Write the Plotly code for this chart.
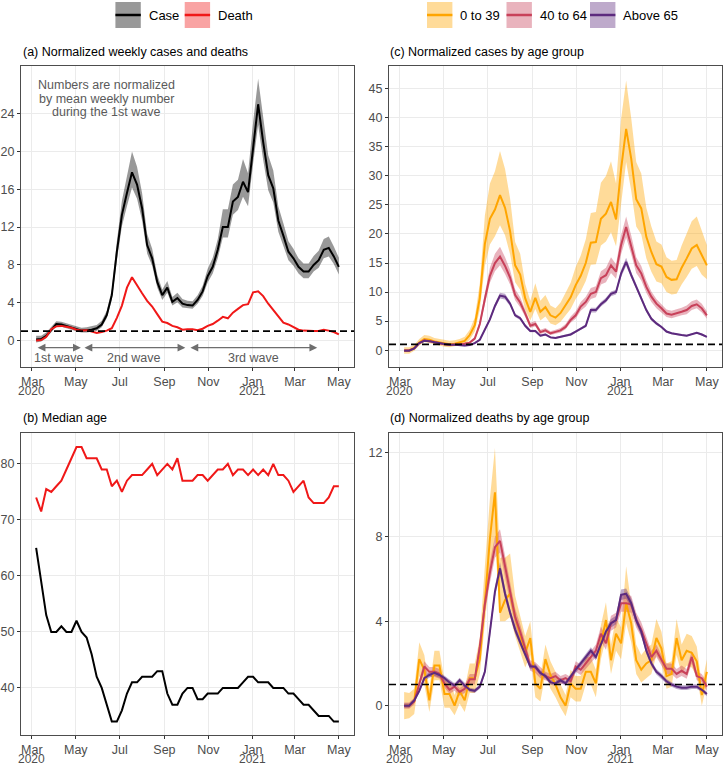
import plotly.graph_objects as go
import pandas as pd

W, H = 725, 765
FONT = "Liberation Sans, Arial, sans-serif"

# ---------------- data ----------------
weeks = pd.date_range("2020-03-07", periods=61, freq="7D").strftime("%Y-%m-%d").tolist()

case = [0.1, 0.15, 0.5, 1.1, 1.75, 1.7, 1.55, 1.4, 1.2, 1.05,
        1.1, 1.15, 1.3, 1.7, 2.7, 4.8, 9.4, 13.3, 15.6, 17.8,
        16.5, 14.0, 10.1, 8.7, 6.2, 4.8, 5.6, 4.1, 4.5, 3.9,
        3.75, 3.7, 4.3, 5.2, 6.8, 7.8, 9.6, 12.0, 12.0, 14.7,
        15.2, 16.8, 15.7, 20.6, 25.0, 21.0, 17.5, 16.1, 12.7, 11.1,
        9.4, 8.7, 7.8, 7.3, 7.3, 8.0, 8.5, 9.6, 9.8, 8.9, 7.8]
case_lo = [-0.2, -0.1, 0.25, 0.85, 1.5, 1.45, 1.3, 1.15, 0.95, 0.85,
           0.85, 0.9, 1.0, 1.4, 2.35, 4.3, 8.5, 12.1, 14.2, 16.2,
           15.0, 12.7, 9.2, 7.9, 5.6, 4.3, 5.05, 3.7, 4.05, 3.5,
           3.4, 3.35, 3.9, 4.7, 6.15, 7.1, 8.7, 10.9, 10.9, 13.3,
           13.8, 15.2, 14.2, 18.7, 22.8, 19.1, 15.9, 14.6, 11.5, 10.1,
           8.5, 7.9, 7.1, 6.6, 6.6, 7.3, 7.7, 8.7, 8.9, 8.1, 7.0]
case_hi = [0.5, 0.5, 0.85, 1.45, 2.05, 2.0, 1.85, 1.7, 1.5, 1.35,
           1.4, 1.5, 1.65, 2.1, 3.15, 5.4, 10.5, 14.8, 17.4, 20.0,
           18.4, 15.6, 11.3, 9.7, 6.95, 5.4, 6.3, 4.6, 5.05, 4.4,
           4.2, 4.15, 4.8, 5.8, 7.6, 8.75, 10.75, 13.9, 13.9, 16.5,
           17.0, 19.2, 17.7, 23.1, 27.7, 23.5, 19.6, 18.0, 14.2, 12.4,
           10.5, 9.7, 8.7, 8.15, 8.15, 8.95, 9.5, 10.75, 11.0, 9.95, 8.75]
death = [0.0, 0.05, 0.4, 1.2, 1.5, 1.55, 1.45, 1.35, 1.15, 1.05,
         1.1, 0.95, 0.8, 0.9, 1.05, 1.3, 2.4, 3.7, 5.6, 6.7,
         5.8, 5.0, 4.2, 3.6, 2.8, 2.0, 1.85, 1.55, 1.4, 1.15,
         1.2, 1.2, 1.1, 1.25, 1.55, 1.75, 2.1, 2.5, 2.35, 2.95,
         3.35, 3.75, 3.85, 5.1, 5.2, 4.7, 3.9, 3.2, 2.5, 1.9,
         1.7, 1.4, 1.15, 1.05, 1.0, 1.0, 1.0, 1.15, 1.05, 0.9, 0.65]

age_case = [65, 59, 53, 50, 50, 51, 50, 50, 52, 50,
            49, 46, 42, 40, 37, 34, 34, 36, 39, 41,
            41, 42, 42, 42, 43, 43, 39, 37, 37, 39,
            40, 40, 38, 38, 39, 39, 39, 40, 40, 40,
            40, 41, 42, 42, 41, 41, 41, 40, 40, 40,
            39, 39, 38, 37, 37, 36, 35, 35, 35, 34, 34]
age_death = [74, 71.5, 75.5, 75, 76, 77, 79, 81, 83, 83,
             81, 81, 81, 79, 79, 76, 77, 75, 77, 78,
             78, 78, 79, 80, 78, 79, 80, 79, 81, 77,
             77, 77, 78, 78, 77, 78, 79, 79, 80, 78,
             79, 79, 78, 79, 78, 79, 78, 80, 78, 78,
             77, 75, 76, 77, 74, 73, 73, 73, 74, 76, 76]

# normalized cases by age group
c1 = [-0.1, -0.1, 0.4, 1.3, 1.9, 1.8, 1.5, 1.3, 1.1, 1.0,
      1.1, 1.3, 1.6, 2.6, 4.3, 9.0, 18.3, 22.6, 24.2, 26.7,
      24.5, 20.5, 14.6, 13.0, 8.9, 6.6, 9.0, 6.6, 7.4, 6.0,
      5.6, 6.4, 7.7, 9.1, 11.2, 12.8, 15.0, 18.5, 18.6, 22.6,
      23.5, 25.5, 22.5, 31.2, 38.1, 33.0, 26.0, 24.4, 19.5, 16.9,
      14.8, 14.4, 12.6, 12.1, 12.2, 14.2, 15.8, 17.5, 18.1, 16.3, 14.6]
c1_lo = [-0.6, -0.6, -0.1, 0.8, 1.4, 1.3, 1.0, 0.8, 0.6, 0.5,
         0.6, 0.8, 1.0, 1.8, 3.2, 7.0, 14.5, 18.2, 19.6, 21.5,
         19.8, 16.5, 11.7, 10.4, 7.0, 5.1, 7.1, 5.1, 5.8, 4.6,
         4.3, 4.9, 6.0, 7.1, 8.8, 10.1, 11.9, 14.7, 14.8, 18.0,
         18.7, 20.3, 17.9, 25.0, 32.4, 27.5, 21.3, 19.9, 15.8, 13.5,
         11.8, 11.5, 10.0, 9.6, 9.7, 11.3, 12.6, 14.0, 14.5, 13.0, 12.2]
c1_hi = [0.5, 0.5, 0.9, 1.9, 2.6, 2.5, 2.1, 1.9, 1.7, 1.6,
         1.7, 1.9, 2.3, 3.5, 5.6, 11.5, 23.2, 28.7, 30.8, 34.3,
         31.2, 26.1, 18.6, 16.6, 11.4, 8.5, 11.5, 8.5, 9.5, 7.7,
         7.2, 8.2, 9.9, 11.6, 14.3, 16.3, 19.1, 23.6, 23.8, 28.8,
         30.0, 32.5, 28.7, 39.8, 46.4, 40.0, 32.4, 30.4, 24.5, 21.3,
         18.7, 18.2, 16.0, 15.4, 15.5, 18.0, 20.1, 22.2, 23.0, 20.7, 18.1]
c2 = [-0.05, -0.05, 0.3, 1.2, 1.7, 1.6, 1.4, 1.2, 1.0, 0.95,
      0.95, 1.0, 1.1, 1.3, 2.0, 4.5, 8.8, 12.8, 15.0, 16.1,
      14.5, 12.5, 9.5, 8.2, 6.3, 4.2, 4.5, 3.1, 3.4, 2.9,
      3.15, 3.4, 4.0, 5.2, 6.0, 7.5, 8.3, 9.7, 10.0, 12.4,
      12.9, 14.6, 13.5, 18.1, 21.2, 18.1, 14.6, 13.2, 10.9, 9.2,
      8.0, 7.2, 6.3, 6.1, 6.3, 6.6, 6.9, 7.6, 7.9, 7.2, 6.0]
c2_lo = [-0.25, -0.25, 0.1, 1.0, 1.5, 1.4, 1.2, 1.0, 0.8, 0.75,
         0.75, 0.8, 0.9, 1.1, 1.75, 4.0, 7.9, 11.6, 13.6, 14.6,
         13.1, 11.3, 8.6, 7.4, 5.7, 3.8, 4.1, 2.8, 3.1, 2.6,
         2.85, 3.05, 3.6, 4.7, 5.4, 6.8, 7.5, 8.8, 9.1, 11.3,
         11.7, 13.3, 12.3, 16.5, 19.4, 16.5, 13.3, 12.0, 9.9, 8.3,
         7.2, 6.5, 5.7, 5.5, 5.7, 6.0, 6.2, 6.9, 7.2, 6.5, 5.4]
c2_hi = [0.2, 0.2, 0.5, 1.4, 1.9, 1.8, 1.6, 1.4, 1.2, 1.15,
         1.15, 1.2, 1.3, 1.5, 2.3, 5.0, 9.8, 14.2, 16.6, 17.8,
         16.0, 13.8, 10.5, 9.1, 7.0, 4.7, 5.0, 3.5, 3.8, 3.25,
         3.5, 3.8, 4.5, 5.8, 6.7, 8.3, 9.2, 10.7, 11.0, 13.6,
         14.2, 16.0, 14.8, 19.8, 23.0, 19.8, 16.0, 14.5, 12.0, 10.1,
         8.8, 7.9, 7.0, 6.8, 7.0, 7.3, 7.7, 8.4, 8.7, 8.0, 6.7]
c3 = [-0.1, -0.1, 0.3, 1.2, 1.6, 1.55, 1.35, 1.2, 1.05, 0.95,
      0.95, 0.9, 0.8, 0.9, 1.2, 1.8, 3.6, 5.3, 7.6, 9.4,
      9.2, 8.0, 6.0, 5.5, 4.2, 3.3, 3.3, 2.5, 2.7, 2.2,
      2.1, 2.3, 2.5, 2.7, 3.2, 3.7, 4.2, 6.9, 6.9, 7.9,
      8.6, 9.7, 10.0, 13.2, 15.2, 12.9, 10.9, 8.9, 6.9, 5.4,
      4.6, 4.0, 3.2, 2.9, 2.7, 2.6, 2.5, 2.8, 3.0, 2.7, 2.3]
c3_lo = [-0.25, -0.25, 0.15, 1.05, 1.45, 1.4, 1.2, 1.05, 0.9, 0.8,
         0.8, 0.75, 0.65, 0.75, 1.05, 1.6, 3.35, 5.0, 7.2, 8.9,
         8.7, 7.6, 5.7, 5.2, 3.95, 3.1, 3.1, 2.3, 2.5, 2.05,
         1.95, 2.15, 2.35, 2.5, 3.0, 3.5, 3.95, 6.5, 6.5, 7.5,
         8.2, 9.3, 9.6, 12.6, 14.5, 12.3, 10.4, 8.5, 6.55, 5.1,
         4.35, 3.8, 3.0, 2.75, 2.55, 2.45, 2.35, 2.65, 2.85, 2.55, 2.15]
c3_hi = [0.05, 0.05, 0.45, 1.35, 1.75, 1.7, 1.5, 1.35, 1.2, 1.1,
         1.1, 1.05, 0.95, 1.05, 1.35, 2.0, 3.85, 5.6, 8.0, 9.9,
         9.7, 8.4, 6.3, 5.8, 4.45, 3.5, 3.5, 2.7, 2.9, 2.35,
         2.25, 2.45, 2.65, 2.9, 3.4, 3.9, 4.45, 7.3, 7.3, 8.3,
         9.0, 10.1, 10.4, 13.8, 15.9, 13.5, 11.4, 9.3, 7.25, 5.7,
         4.85, 4.2, 3.4, 3.05, 2.85, 2.75, 2.65, 2.95, 3.15, 2.85, 2.45]

# normalized deaths by age group
d1 = [0.0, 0.0, 0.2, 2.2, 1.7, 0.25, 1.9, 1.9, 0.55, 0.55,
      0.0, 0.7, 0.25, 1.3, 1.3, 2.2, 4.9, 7.9, 10.1, 4.4,
      5.0, 5.3, 4.2, 3.3, 2.5, 3.2, 1.05, 0.8, 2.2, 1.45,
      1.0, 0.4, 0.0, 1.05, 0.8, 0.8, 1.6, 1.6, 1.05, 2.95,
      4.05, 2.15, 3.4, 2.95, 4.85, 3.9, 2.15, 1.7, 2.0, 2.15,
      3.2, 2.7, 1.4, 1.5, 3.2, 2.15, 2.6, 2.5, 2.1, 0.5, 1.6]
d1_lo = [-0.65, -0.6, -0.4, 1.4, 1.0, -0.3, 1.2, 1.2, -0.1, -0.1,
         -0.45, 0.1, -0.3, 0.6, 0.6, 1.5, 4.0, 6.3, 7.9, 4.0,
         4.0, 4.2, 3.3, 2.5, 1.8, 2.4, 0.4, 0.2, 1.5, 0.8,
         0.4, -0.1, -0.5, 0.4, 0.2, 0.2, 1.0, 1.0, 0.4, 2.2,
         3.2, 1.5, 2.6, 2.2, 3.9, 3.0, 1.5, 1.1, 1.3, 1.5,
         2.4, 2.0, 0.8, 0.9, 2.4, 1.5, 1.9, 1.8, 1.4, 0.0, 1.0]
d1_hi = [0.65, 0.6, 0.8, 3.0, 2.4, 0.8, 2.6, 2.6, 1.2, 1.2,
         0.5, 1.3, 0.8, 2.0, 2.0, 3.2, 6.6, 9.8, 12.2, 7.0,
         7.0, 7.2, 5.2, 4.2, 3.3, 4.0, 1.7, 1.4, 2.9, 2.1,
         1.6, 1.0, 0.5, 1.7, 1.4, 1.4, 2.3, 2.3, 1.7, 3.8,
         4.9, 2.9, 4.2, 3.7, 6.6, 4.8, 2.9, 2.4, 2.7, 2.9,
         4.1, 3.5, 2.0, 2.1, 4.1, 2.9, 3.4, 3.3, 2.8, 1.0, 2.2]
d2 = [0.0, 0.0, 0.2, 1.05, 1.85, 1.6, 1.6, 1.5, 1.05, 0.75,
      0.9, 0.65, 0.8, 1.25, 1.25, 2.8, 4.8, 6.3, 7.5, 7.8,
      6.6, 5.3, 4.2, 3.5, 2.7, 1.9, 1.8, 1.55, 1.4, 1.3,
      1.4, 1.2, 1.3, 1.15, 1.85, 1.7, 2.0, 2.3, 2.6, 3.4,
      2.95, 3.9, 4.05, 4.85, 4.85, 4.8, 4.05, 3.6, 2.95, 2.3,
      2.6, 2.15, 1.75, 1.75, 1.5, 1.65, 1.5, 2.3, 1.4, 1.3, 0.9]
d2_lo = [-0.15, -0.15, 0.05, 0.85, 1.6, 1.37, 1.37, 1.27, 0.85, 0.56,
         0.7, 0.47, 0.6, 1.0, 1.0, 2.5, 4.4, 5.8, 7.0, 7.25,
         6.1, 4.9, 3.8, 3.15, 2.4, 1.65, 1.55, 1.3, 1.2, 1.1,
         1.2, 1.0, 1.1, 0.95, 1.6, 1.45, 1.75, 2.0, 2.3, 3.05,
         2.65, 3.55, 3.7, 4.45, 4.45, 4.4, 3.7, 3.25, 2.65, 2.0,
         2.3, 1.9, 1.5, 1.5, 1.27, 1.4, 1.27, 2.0, 1.2, 1.1, 0.7]
d2_hi = [0.15, 0.15, 0.36, 1.25, 2.1, 1.83, 1.83, 1.73, 1.25, 0.94,
         1.1, 0.83, 1.0, 1.5, 1.5, 3.1, 5.2, 6.8, 8.0, 8.35,
         7.1, 5.7, 4.6, 3.85, 3.0, 2.15, 2.05, 1.8, 1.6, 1.5,
         1.6, 1.4, 1.5, 1.35, 2.1, 1.95, 2.25, 2.6, 2.9, 3.75,
         3.25, 4.25, 4.4, 5.25, 5.25, 5.2, 4.4, 3.95, 3.25, 2.6,
         2.9, 2.4, 2.0, 2.0, 1.73, 1.9, 1.73, 2.6, 1.6, 1.5, 1.1]
d3 = [0.0, 0.0, 0.25, 0.7, 1.3, 1.45, 1.55, 1.45, 1.3, 1.1,
      0.95, 1.2, 0.95, 0.75, 0.7, 0.9, 1.6, 3.4, 5.4, 6.5,
      5.3, 4.4, 3.6, 3.0, 2.4, 1.85, 1.85, 1.55, 1.4, 1.1,
      1.05, 1.2, 1.05, 1.4, 1.7, 2.0, 2.3, 2.6, 2.3, 2.95,
      3.5, 3.9, 4.05, 5.25, 5.3, 4.85, 4.05, 3.5, 2.6, 2.0,
      1.6, 1.4, 1.15, 1.0, 0.9, 0.85, 0.85, 0.9, 0.9, 0.75, 0.55]
d3_lo = [-0.1, -0.1, 0.15, 0.6, 1.18, 1.32, 1.42, 1.32, 1.18, 0.98,
         0.84, 1.08, 0.84, 0.65, 0.6, 0.8, 1.47, 3.2, 5.15, 6.2,
         5.05, 4.2, 3.4, 2.83, 2.25, 1.72, 1.72, 1.42, 1.28, 0.99,
         0.94, 1.08, 0.94, 1.28, 1.57, 1.86, 2.15, 2.44, 2.15, 2.78,
         3.32, 3.7, 3.85, 5.0, 5.06, 4.62, 3.85, 3.32, 2.44, 1.86,
         1.47, 1.28, 1.04, 0.89, 0.79, 0.74, 0.74, 0.79, 0.79, 0.65, 0.45]
d3_hi = [0.1, 0.1, 0.35, 0.8, 1.42, 1.58, 1.68, 1.58, 1.42, 1.22,
         1.06, 1.32, 1.06, 0.85, 0.8, 1.0, 1.73, 3.6, 5.65, 6.8,
         5.55, 4.6, 3.8, 3.17, 2.55, 1.98, 1.98, 1.68, 1.52, 1.21,
         1.16, 1.32, 1.16, 1.52, 1.83, 2.14, 2.45, 2.76, 2.45, 3.12,
         3.68, 4.1, 4.25, 5.5, 5.54, 5.08, 4.25, 3.68, 2.76, 2.14,
         1.73, 1.52, 1.26, 1.11, 1.01, 0.96, 0.96, 1.01, 1.01, 0.85, 0.65]

# wave periods (arrows) and labels
wave_labels = ["1st wave", "2nd wave", "3rd wave"]
wave_start = ["2020-03-07", "2020-05-11", "2020-10-05"]
wave_end = ["2020-05-08", "2020-09-30", "2021-04-01"]

tick_dates = ["2020-03-01", "2020-05-01", "2020-07-01", "2020-09-01",
              "2020-11-01", "2021-01-01", "2021-03-01", "2021-05-01"]
tick_text = ["Mar", "May", "Jul", "Sep", "Nov", "Jan", "Mar", "May"]
year_dates = ["2020-03-01", "2021-01-01"]
year_text = ["2020", "2021"]

# ---------------- styles ----------------
BLACK = "#000000"
RED = "#F01818"
ORANGE = "#FFA500"
CRIMSON = "#C8415A"
PURPLE = "#5C2A7E"


def rgba(hexcol, a=0.4):
    h = hexcol.lstrip("#")
    r, g, b = int(h[0:2], 16), int(h[2:4], 16), int(h[4:6], 16)
    return f"rgba({r},{g},{b},{a})"


fig = go.Figure()


def band(lo, hi, color, xa, ya):
    fig.add_trace(go.Scatter(x=weeks + weeks[::-1], y=hi + lo[::-1], fill="toself",
                             fillcolor=rgba(color), line=dict(width=0), mode="lines",
                             hoverinfo="skip", showlegend=False, xaxis=xa, yaxis=ya))


def line(y, color, xa, ya, width=2.0):
    fig.add_trace(go.Scatter(x=weeks, y=y, mode="lines", line=dict(color=color, width=width),
                             showlegend=False, xaxis=xa, yaxis=ya))


# (a)
band(case_lo, case_hi, BLACK, "x", "y")
line(case, BLACK, "x", "y")
line(death, RED, "x", "y")
# (b)
line(age_case, BLACK, "x2", "y2")
line(age_death, RED, "x2", "y2")
# (c)
band(c1_lo, c1_hi, ORANGE, "x3", "y3")
band(c2_lo, c2_hi, CRIMSON, "x3", "y3")
band(c3_lo, c3_hi, PURPLE, "x3", "y3")
line(c1, ORANGE, "x3", "y3")
line(c2, CRIMSON, "x3", "y3")
line(c3, PURPLE, "x3", "y3")
# (d)
band(d1_lo, d1_hi, ORANGE, "x4", "y4")
band(d2_lo, d2_hi, CRIMSON, "x4", "y4")
band(d3_lo, d3_hi, PURPLE, "x4", "y4")
line(d1, ORANGE, "x4", "y4")
line(d2, CRIMSON, "x4", "y4")
line(d3, PURPLE, "x4", "y4")


def px(x):
    return x / W


def py(y):
    return 1 - y / H


TOP_B, BOT_B = 367, 735
XL = [px(21), px(354)]
XR = [px(389), px(722)]
YT = [py(TOP_B), py(65.5)]
YB = [py(BOT_B), py(432.5)]

TICKFONT = dict(family=FONT, size=12.5, color="#4D4D4D")
YEARFONT = dict(family=FONT, size=12, color="#4D4D4D")
common = dict(showgrid=True, gridcolor="#EBEBEB", gridwidth=1, zeroline=False,
              showline=True, mirror=True, linecolor="#4D4D4D", linewidth=1,
              ticks="outside", ticklen=3, tickwidth=1, tickcolor="#333333",
              tickfont=TICKFONT, automargin=False)

xcommon = dict(common, type="date", range=["2020-02-15", "2021-05-22"],
               tickmode="array", tickvals=tick_dates, ticktext=tick_text)

fig.update_layout(
    xaxis=dict(xcommon, domain=XL, anchor="y"),
    xaxis2=dict(xcommon, domain=XL, anchor="y2"),
    xaxis3=dict(xcommon, domain=XR, anchor="y3"),
    xaxis4=dict(xcommon, domain=XR, anchor="y4"),
    yaxis=dict(common, domain=YT, anchor="x", range=[-2.8, 29.1],
               tickmode="array", tickvals=[0, 4, 8, 12, 16, 20, 24]),
    yaxis2=dict(common, domain=YB, anchor="x2", range=[31.6, 85.6],
                tickmode="array", tickvals=[40, 50, 60, 70, 80]),
    yaxis3=dict(common, domain=YT, anchor="x3", range=[-2.9, 49.0],
                tickmode="array", tickvals=[0, 5, 10, 15, 20, 25, 30, 35, 40, 45]),
    yaxis4=dict(common, domain=YB, anchor="x4", range=[-1.39, 12.93],
                tickmode="array", tickvals=[0, 4, 8, 12]),
)

shapes = []
# reference lines at 1
for xa, ya in [("x", "y"), ("x3", "y3"), ("x4", "y4")]:
    shapes.append(dict(type="line", xref=f"{xa} domain", yref=ya, x0=0, x1=1, y0=1, y1=1,
                       line=dict(color="black", width=1.6, dash="7px,4px"), layer="above"))

annotations = []
# year labels under the month ticks
for xa, bottom, off in [("x", TOP_B, 24.5), ("x2", BOT_B, 23.5),
                        ("x3", TOP_B, 24.5), ("x4", BOT_B, 23.5)]:
    for d, t in zip(year_dates, year_text):
        annotations.append(dict(text=t, xref=xa, yref="paper", x=d, y=py(bottom + off),
                                xanchor="center", yanchor="middle", showarrow=False,
                                font=YEARFONT))

# panel titles
titles = [("(a) Normalized weekly cases and deaths", 21, 52),
          ("(b) Median age", 21, 418),
          ("(c) Normalized cases by age group", 388, 52),
          ("(d) Normalized deaths by age group", 388, 418)]
for t, x, y in titles:
    annotations.append(dict(text=t, xref="paper", yref="paper", x=px(x), y=py(y),
                            xanchor="left", yanchor="middle", showarrow=False,
                            font=dict(family=FONT, size=12.5, color="black")))

# explanatory note in panel (a)
note_lines = ["Numbers are normalized", "by mean weekly number", "during the 1st wave"]
note_y = [27.0, 25.6, 24.2]
for t, yv in zip(note_lines, note_y):
    annotations.append(dict(text=t, xref="x", yref="y", x="2020-06-12", y=yv,
                            xanchor="center", yanchor="middle", showarrow=False,
                            font=dict(family=FONT, size=12.5, color="#5A5A5A")))

# wave arrows + labels
for lab, s, e in zip(wave_labels, wave_start, wave_end):
    annotations.append(dict(text="", xref="x", yref="y", x=e, y=-0.76,
                            axref="x", ayref="y", ax=s, ay=-0.76, showarrow=True,
                            arrowhead=2, arrowside="end+start", arrowsize=1.2,
                            arrowwidth=1.3, arrowcolor="#6E6E6E", standoff=0, startstandoff=0))
    mid = pd.Timestamp(s) + (pd.Timestamp(e) - pd.Timestamp(s)) / 2
    annotations.append(dict(text=lab, xref="x", yref="y", x=mid.strftime("%Y-%m-%d"), y=-1.9,
                            xanchor="center", yanchor="middle", showarrow=False,
                            font=dict(family=FONT, size=12.5, color="#5A5A5A")))

# legends (drawn keys)
legend_items = [("Case", BLACK, 115.4), ("Death", RED, 184.7),
                ("0 to 39", ORANGE, 427.0), ("40 to 64", CRIMSON, 506.5),
                ("Above 65", PURPLE, 590.0)]
KW, KY0, KY1, KYC = 25.4, 2, 28, 15
for lab, col, x0 in legend_items:
    shapes.append(dict(type="rect", xref="paper", yref="paper", x0=px(x0), x1=px(x0 + KW),
                       y0=py(KY1), y1=py(KY0), fillcolor=rgba(col), line=dict(width=0)))
    shapes.append(dict(type="line", xref="paper", yref="paper", x0=px(x0), x1=px(x0 + KW),
                       y0=py(KYC), y1=py(KYC), line=dict(color=col, width=2.5)))
    annotations.append(dict(text=lab, xref="paper", yref="paper", x=px(x0 + KW + 6), y=py(KYC),
                            xanchor="left", yanchor="middle", showarrow=False,
                            font=dict(family=FONT, size=13, color="black")))

fig.update_layout(shapes=shapes, annotations=annotations,
                  width=W, height=H, margin=dict(l=0, r=0, t=0, b=0),
                  paper_bgcolor="white", plot_bgcolor="white", showlegend=False,
                  font=dict(family=FONT))

fig.write_html("out.html", config={"displayModeBar": False},
               post_script="document.body.style.margin='0';")
